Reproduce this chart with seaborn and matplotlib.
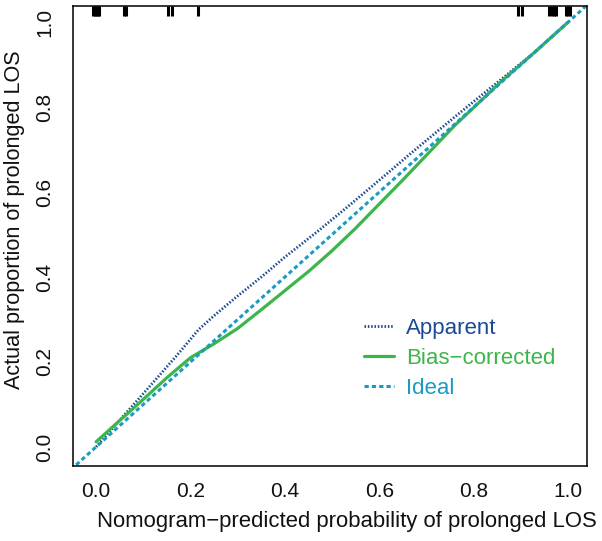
import matplotlib
matplotlib.use("Agg")
import matplotlib.pyplot as plt
import seaborn as sns
import pandas as pd
import numpy as np

sns.set_theme(style="white")
plt.rcParams['font.family'] = ['Liberation Sans', 'DejaVu Sans']

# ---- data ----
apparent_x = [0.0, 0.05, 0.11, 0.17, 0.217, 0.25, 0.295, 0.35, 0.40, 0.47, 0.539, 0.60, 0.672, 0.76, 0.85, 0.93, 1.0]
apparent_y = [0.0, 0.063, 0.138, 0.214, 0.276, 0.309, 0.351, 0.400, 0.447, 0.508, 0.571, 0.628, 0.696, 0.777, 0.858, 0.93, 1.0]

bias_x = [0.0, 0.05, 0.10, 0.15, 0.20, 0.25, 0.30, 0.35, 0.40, 0.45, 0.50, 0.55, 0.60, 0.645, 0.70, 0.76, 0.86, 0.93, 1.0]
bias_y = [0.012, 0.062, 0.112, 0.163, 0.210, 0.243, 0.279, 0.323, 0.368, 0.413, 0.462, 0.515, 0.572, 0.623, 0.687, 0.757, 0.862, 0.93, 1.0]

ideal_x = [-0.1, 1.1]
ideal_y = [-0.1, 1.1]

rug_x = [-0.006, -0.003, 0.0, 0.003, 0.006, 0.058, 0.063, 0.153, 0.161, 0.216,
         0.894, 0.903, 0.96, 0.965, 0.97, 0.975, 0.995, 1.0, 1.005]

x_ticks = [0.0, 0.2, 0.4, 0.6, 0.8, 1.0]
y_ticks = [0.0, 0.2, 0.4, 0.6, 0.8, 1.0]

series_labels = ["Apparent", "Bias\u2212corrected", "Ideal"]
col_app = "#1a4a92"
col_bias = "#3db54a"
col_ideal = "#1a9cc2"

x_label = "Nomogram\u2212predicted probability of prolonged LOS"
y_label = "Actual proportion of prolonged LOS"

# ---- figure ----
fig = plt.figure(figsize=(6.02, 5.41), dpi=100)
ax = fig.add_axes([73/602, 1-466/541, (587-73)/602, (466-6)/541])

df_app = pd.DataFrame({"x": apparent_x, "y": apparent_y})
df_bias = pd.DataFrame({"x": bias_x, "y": bias_y})
df_ideal = pd.DataFrame({"x": ideal_x, "y": ideal_y})

sns.lineplot(data=df_app, x="x", y="y", ax=ax, color=col_app, lw=2.0,
             linestyle=(0, (0.55, 0.65)), sort=False, estimator=None,
             label=series_labels[0])
sns.lineplot(data=df_bias, x="x", y="y", ax=ax, color=col_bias, lw=2.3,
             sort=False, estimator=None, label=series_labels[1])
sns.lineplot(data=df_ideal, x="x", y="y", ax=ax, color=col_ideal, lw=2.2,
             linestyle=(0, (1.4, 1.0)), sort=False, estimator=None,
             label=series_labels[2])

# rug at top
ax.vlines(rug_x, 1 - 0.022, 1.0, transform=ax.get_xaxis_transform(),
          color="black", lw=2.2)

ax.set_xlim(-0.049, 1.04)
ax.set_ylim(-0.045, 1.038)
ax.set_xticks(x_ticks)
ax.set_yticks(y_ticks)
ax.set_xticklabels([f"{v:.1f}" for v in x_ticks])
ax.set_yticklabels([f"{v:.1f}" for v in y_ticks], rotation=90, va="center")
ax.tick_params(axis="both", direction="out", length=5.5, width=1.1,
               color="black", labelsize=15, labelcolor="#111111")
ax.tick_params(axis="x", pad=6)
ax.tick_params(axis="y", pad=8)
ax.set_xlabel("")
ax.set_ylabel("")
for s in ax.spines.values():
    s.set_visible(True)
    s.set_color("black")
    s.set_linewidth(1.1)

fig.text(347/602, 1-522/541, x_label, ha="center", va="center", fontsize=15.9,
         color="#111111")
fig.text(15/602, 1-220/541, y_label, ha="center", va="center", fontsize=15.6,
         rotation=90, color="#111111")

leg = ax.legend(loc="upper left", bbox_to_anchor=(0.566, 0.322), frameon=False,
                fontsize=16, handlelength=1.36, handletextpad=0.55,
                labelspacing=0.41, borderpad=0, borderaxespad=0,
                labelcolor="linecolor")

fig.savefig("out.png", dpi=100)
